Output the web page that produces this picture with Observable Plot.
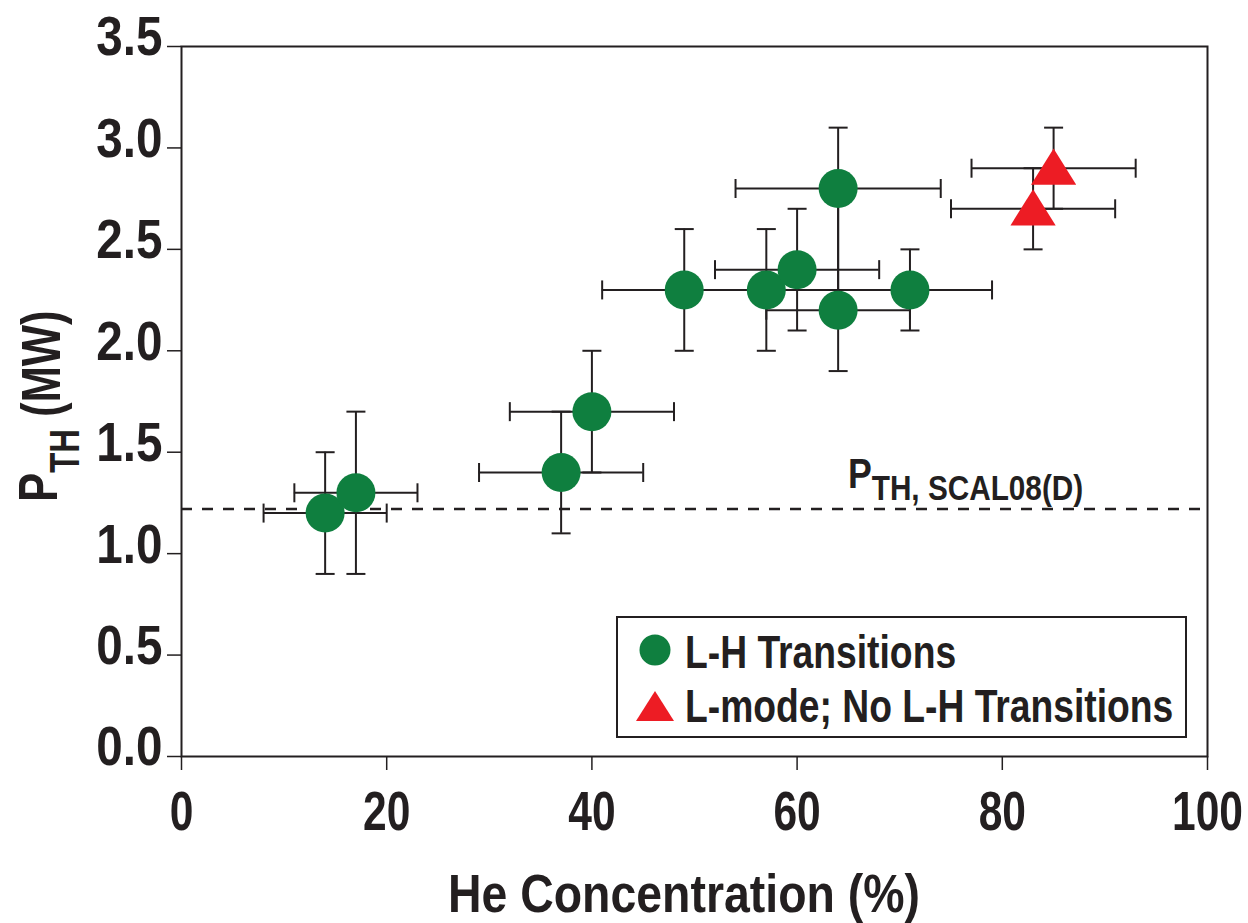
<!DOCTYPE html>
<html>
<head>
<meta charset="utf-8">
<script src="https://cdn.jsdelivr.net/npm/d3@7"></script>
<script src="https://cdn.jsdelivr.net/npm/@observablehq/plot@0.6"></script>
<style>
  body { margin: 0; background: #fff; }
  #chart svg { display: block; }
</style>
</head>
<body>
<div id="chart"></div>
<script>
// ---- Data: L-H transitions (green circles) ----
const lhX   = [14, 17, 37, 40, 49, 57, 60, 64, 64, 71];
const lhY   = [1.2, 1.3, 1.4, 1.7, 2.3, 2.3, 2.4, 2.8, 2.2, 2.3];
const lhXLo = [8, 11, 29, 32, 41, 49, 52, 54, 57, 57];
const lhXHi = [20, 23, 45, 48, 57, 71, 68, 74, 71, 79];
const lhYLo = [0.9, 0.9, 1.1, 1.4, 2.0, 2.0, 2.1, 2.2, 1.9, 2.1];
const lhYHi = [1.5, 1.7, 1.7, 2.0, 2.6, 2.6, 2.7, 3.1, 2.8, 2.5];

// ---- Data: L-mode, no L-H transitions (red triangles) ----
const lmX   = [85, 83];
const lmY   = [2.9, 2.7];
const lmXLo = [77, 75];
const lmXHi = [93, 91];
const lmYLo = [2.7, 2.5];
const lmYHi = [3.1, 2.9];

// ---- Threshold scaling P_TH,SCAL08(D) ----
const threshold = 1.22;

// ---- Axes ----
const xTicks = [0, 20, 40, 60, 80, 100];
const yTicks = [0, 0.5, 1.0, 1.5, 2.0, 2.5, 3.0, 3.5];
const seriesNames = ["L-H Transitions", "L-mode; No L-H Transitions"];

const GREEN = "#0f7f3f";
const RED = "#ed1c24";
const INK = "#231f20";

const lh = lhX.map((x, i) => ({x, y: lhY[i], xLo: lhXLo[i], xHi: lhXHi[i], yLo: lhYLo[i], yHi: lhYHi[i]}));
const lm = lmX.map((x, i) => ({x, y: lmY[i], xLo: lmXLo[i], xHi: lmXHi[i], yLo: lmYLo[i], yHi: lmYHi[i]}));
const all = lh.concat(lm);

// custom symbols
const hcap = {draw(ctx, size) { const r = Math.sqrt(size / Math.PI); ctx.moveTo(-r, 0); ctx.lineTo(r, 0); }};
const vcap = {draw(ctx, size) { const r = Math.sqrt(size / Math.PI); ctx.moveTo(0, -r); ctx.lineTo(0, r); }};
const tri = {draw(ctx, size) {
  const r = Math.sqrt(size / Math.PI);
  ctx.moveTo(0, -0.98 * r);
  ctx.lineTo(1.13 * r, 0.83 * r);
  ctx.lineTo(-1.13 * r, 0.83 * r);
  ctx.closePath();
}};

const FONT = "'Liberation Sans', Arial, Helvetica, sans-serif";

const plot = Plot.plot({
  width: 1248,
  height: 923,
  marginLeft: 181,
  marginRight: 41,
  marginTop: 46,
  marginBottom: 167,
  style: {fontFamily: FONT, fontWeight: "bold", color: INK, background: "white", overflow: "visible"},
  x: {domain: [0, 100]},
  y: {domain: [0, 3.5]},
  marks: [
    Plot.ruleY([threshold], {stroke: INK, strokeWidth: 2.5, strokeDasharray: "11,10"}),
    // error bars
    Plot.ruleY(all, {y: "y", x1: "xLo", x2: "xHi", stroke: INK, strokeWidth: 2}),
    Plot.ruleX(all, {x: "x", y1: "yLo", y2: "yHi", stroke: INK, strokeWidth: 2}),
    Plot.dot(all, {x: "xLo", y: "y", symbol: vcap, r: 9.5, fill: "none", stroke: INK, strokeWidth: 2}),
    Plot.dot(all, {x: "xHi", y: "y", symbol: vcap, r: 9.5, fill: "none", stroke: INK, strokeWidth: 2}),
    Plot.dot(all, {x: "x", y: "yLo", symbol: hcap, r: 9.5, fill: "none", stroke: INK, strokeWidth: 2}),
    Plot.dot(all, {x: "x", y: "yHi", symbol: hcap, r: 9.5, fill: "none", stroke: INK, strokeWidth: 2}),
    // markers
    Plot.dot(lh, {x: "x", y: "y", r: 19.5, fill: GREEN, stroke: "none"}),
    Plot.dot(lm, {x: "x", y: "y", symbol: tri, r: 20, fill: RED, stroke: "none"}),
    Plot.frame({stroke: INK, strokeWidth: 2}),
    Plot.axisX(xTicks, {tickSize: 14, tickPadding: 20, fontSize: 56, fontWeight: "bold", label: null, strokeWidth: 1.5}),
    Plot.axisY(yTicks, {tickSize: 14, tickPadding: 5, fontSize: 56, fontWeight: "bold", label: null, tickFormat: d3.format(".1f"), strokeWidth: 1.5})
  ]
});

document.getElementById("chart").appendChild(plot);

const svg = d3.select(plot);
const xs = plot.scale("x"), ys = plot.scale("y");

// condense helper (Helvetica Condensed look)
function condense(sel, k, dy = 0) {
  sel.each(function () {
    const t = d3.select(this);
    let tr = t.attr("transform") || "";
    const xa = t.attr("x");
    if (xa != null && !/em$/.test(xa)) { tr += ` translate(${+xa},0)`; t.attr("x", null); }
    t.attr("transform", `${dy ? `translate(0,${dy}) ` : ""}${tr} scale(${k},1)`);
  });
}
condense(svg.selectAll('g[aria-label="x-axis tick label"] text'), 0.76);
condense(svg.selectAll('g[aria-label="y-axis tick label"] text'), 0.85, -9);

// x-axis title
svg.append("text")
  .attr("transform", "translate(684,912) scale(0.86,1)")
  .attr("text-anchor", "middle")
  .attr("font-size", 54)
  .attr("font-weight", "bold")
  .attr("fill", INK)
  .text("He Concentration (%)");

// y-axis title with subscript
{
  const t = svg.append("text")
    .attr("transform", "translate(57,502) rotate(-90) scale(0.78,1)")
    .attr("text-anchor", "start")
    .attr("font-size", 56)
    .attr("font-weight", "bold")
    .attr("fill", INK);
  t.append("tspan").text("P");
  t.append("tspan").attr("font-size", 42).attr("dy", 22).text("TH");
  t.append("tspan").attr("dy", -19).text(" (MW)");
}

// threshold annotation
{
  const t = svg.append("text")
    .attr("transform", `translate(${xs.apply(65)},${ys.apply(threshold) - 21}) scale(0.85,1)`)
    .attr("text-anchor", "start")
    .attr("font-size", 42)
    .attr("font-weight", "bold")
    .attr("fill", INK);
  t.append("tspan").text("P");
  t.append("tspan").attr("font-size", 35).attr("dy", 12).text("TH, SCAL08(D)");
}

// legend
{
  const g = svg.append("g").attr("aria-label", "legend");
  g.append("rect").attr("x", 617).attr("y", 617).attr("width", 569).attr("height", 120)
    .attr("fill", "white").attr("stroke", INK).attr("stroke-width", 2);
  g.append("circle").attr("cx", 655).attr("cy", 650).attr("r", 15.5).attr("fill", GREEN);
  g.append("path").attr("d", "M655,691L674,721L636,721Z").attr("fill", RED);
  const rows = [[668, seriesNames[0]], [722, seriesNames[1]]];
  rows.forEach(([by, label]) => {
    g.append("text")
      .attr("transform", `translate(685,${by}) scale(0.81,1)`)
      .attr("text-anchor", "start")
      .attr("font-size", 46)
      .attr("font-weight", "bold")
      .attr("fill", INK)
      .text(label);
  });
}
</script>
</body>
</html>
